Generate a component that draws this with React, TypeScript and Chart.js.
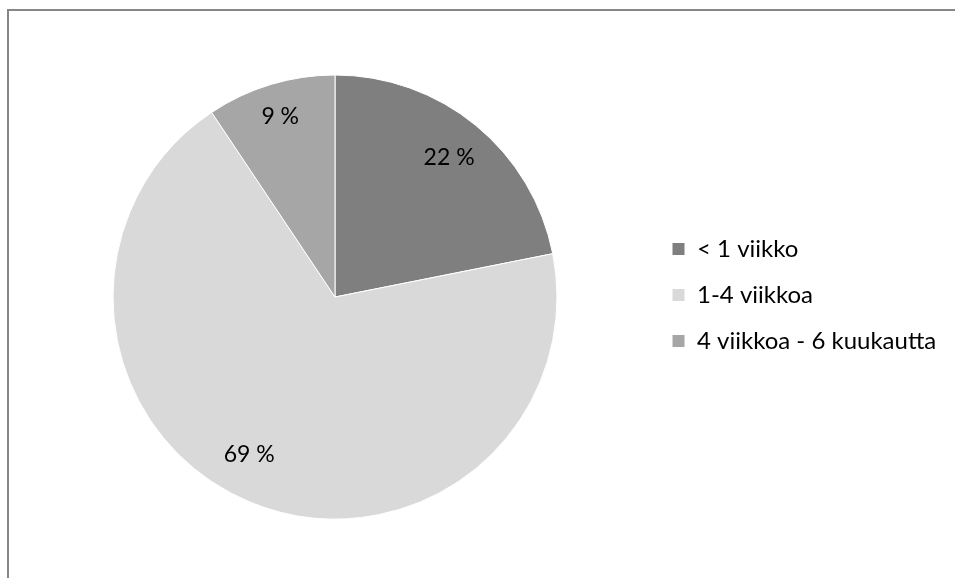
import React, { useEffect, useRef } from "react";
import { Chart, registerables } from "chart.js";

Chart.register(...registerables);

const categories = ["< 1 viikko", "1-4 viikkoa", "4 viikkoa - 6 kuukautta"];
const counts = [7, 22, 3];
const sliceColors = ["#7f7f7f", "#d9d9d9", "#a6a6a6"];

const FONT_FAMILY = "Lato, 'Noto Sans', sans-serif";
const LEGEND_FONT_SIZE = 24;
const LEGEND_BOX = 13;
const LEGEND_PAD = 22;

const sliceLabelPlugin = {
  id: "sliceLabels",
  afterDatasetsDraw(chart: any, _args: any, opts: any) {
    const ctx = chart.ctx;
    const meta = chart.getDatasetMeta(0);
    const data = chart.data.datasets[0].data as number[];
    const total = data.reduce((a, b) => a + b, 0);
    ctx.save();
    ctx.font = `${opts.size}px ${FONT_FAMILY}`;
    ctx.fillStyle = opts.color;
    ctx.textAlign = "center";
    ctx.textBaseline = "middle";
    meta.data.forEach((arc: any, i: number) => {
      const p = arc.getProps(["x", "y", "startAngle", "endAngle", "outerRadius"], true);
      const mid = (p.startAngle + p.endAngle) / 2 + ((opts.angleShift[i] || 0) * Math.PI) / 180;
      const r = p.outerRadius * opts.dist[i];
      const text = Math.round((data[i] / total) * 100) + " %";
      ctx.fillText(text, p.x + Math.cos(mid) * r, p.y + Math.sin(mid) * r);
    });
    ctx.restore();
  },
};

export default function App() {
  const ref = useRef<HTMLCanvasElement | null>(null);

  useEffect(() => {
    if (!ref.current) return;
    // size the right padding so the legend starts where the reference legend starts
    const mctx = ref.current.getContext("2d")!;
    mctx.font = `${LEGEND_FONT_SIZE}px ${FONT_FAMILY}`;
    const maxText = Math.max(...categories.map((c) => mctx.measureText(c).width));
    const legendWidth = LEGEND_PAD + LEGEND_BOX + LEGEND_FONT_SIZE / 2 + maxText + 10;
    const padRight = Math.max(0, 955 - 650 - legendWidth);

    const chart = new Chart(ref.current, {
      type: "pie",
      data: {
        labels: categories,
        datasets: [
          {
            data: counts,
            backgroundColor: sliceColors,
            borderColor: "#ffffff",
            borderWidth: 1,
            radius: 222,
          } as any,
        ],
      },
      options: {
        animation: false,
        responsive: false,
        layout: { padding: { top: 16, bottom: 0, left: 20 + (955 - 650 - legendWidth - padRight) * 0, right: padRight } },
        plugins: {
          tooltip: { enabled: false },
          legend: {
            position: "right",
            title: {
              display: true,
              text: "",
              font: { size: 1, lineHeight: 1 },
              padding: { top: -5, bottom: 0 },
            },
            labels: {
              boxWidth: LEGEND_BOX,
              boxHeight: LEGEND_BOX,
              padding: LEGEND_PAD,
              color: "#000000",
              font: { family: FONT_FAMILY, size: LEGEND_FONT_SIZE },
            },
          },
          sliceLabels: { size: 23, color: "#000000", dist: [0.81, 0.81, 0.85], angleShift: [0, 6, 0] },
        } as any,
      },
      plugins: [sliceLabelPlugin],
    });
    return () => chart.destroy();
  }, []);

  return (
    <div
      style={{
        position: "fixed",
        left: 0,
        top: 0,
        width: 955,
        height: 578,
        overflow: "hidden",
        background: "#ffffff",
      }}
    >
      <div
        style={{
          position: "absolute",
          left: 7,
          top: 9,
          width: 2000,
          height: 2000,
          borderTop: "2px solid #868686",
          borderLeft: "2px solid #868686",
        }}
      />
      <canvas
        ref={ref}
        width={955}
        height={578}
        style={{ position: "absolute", left: 0, top: 0, width: 955, height: 578 }}
      />
    </div>
  );
}
